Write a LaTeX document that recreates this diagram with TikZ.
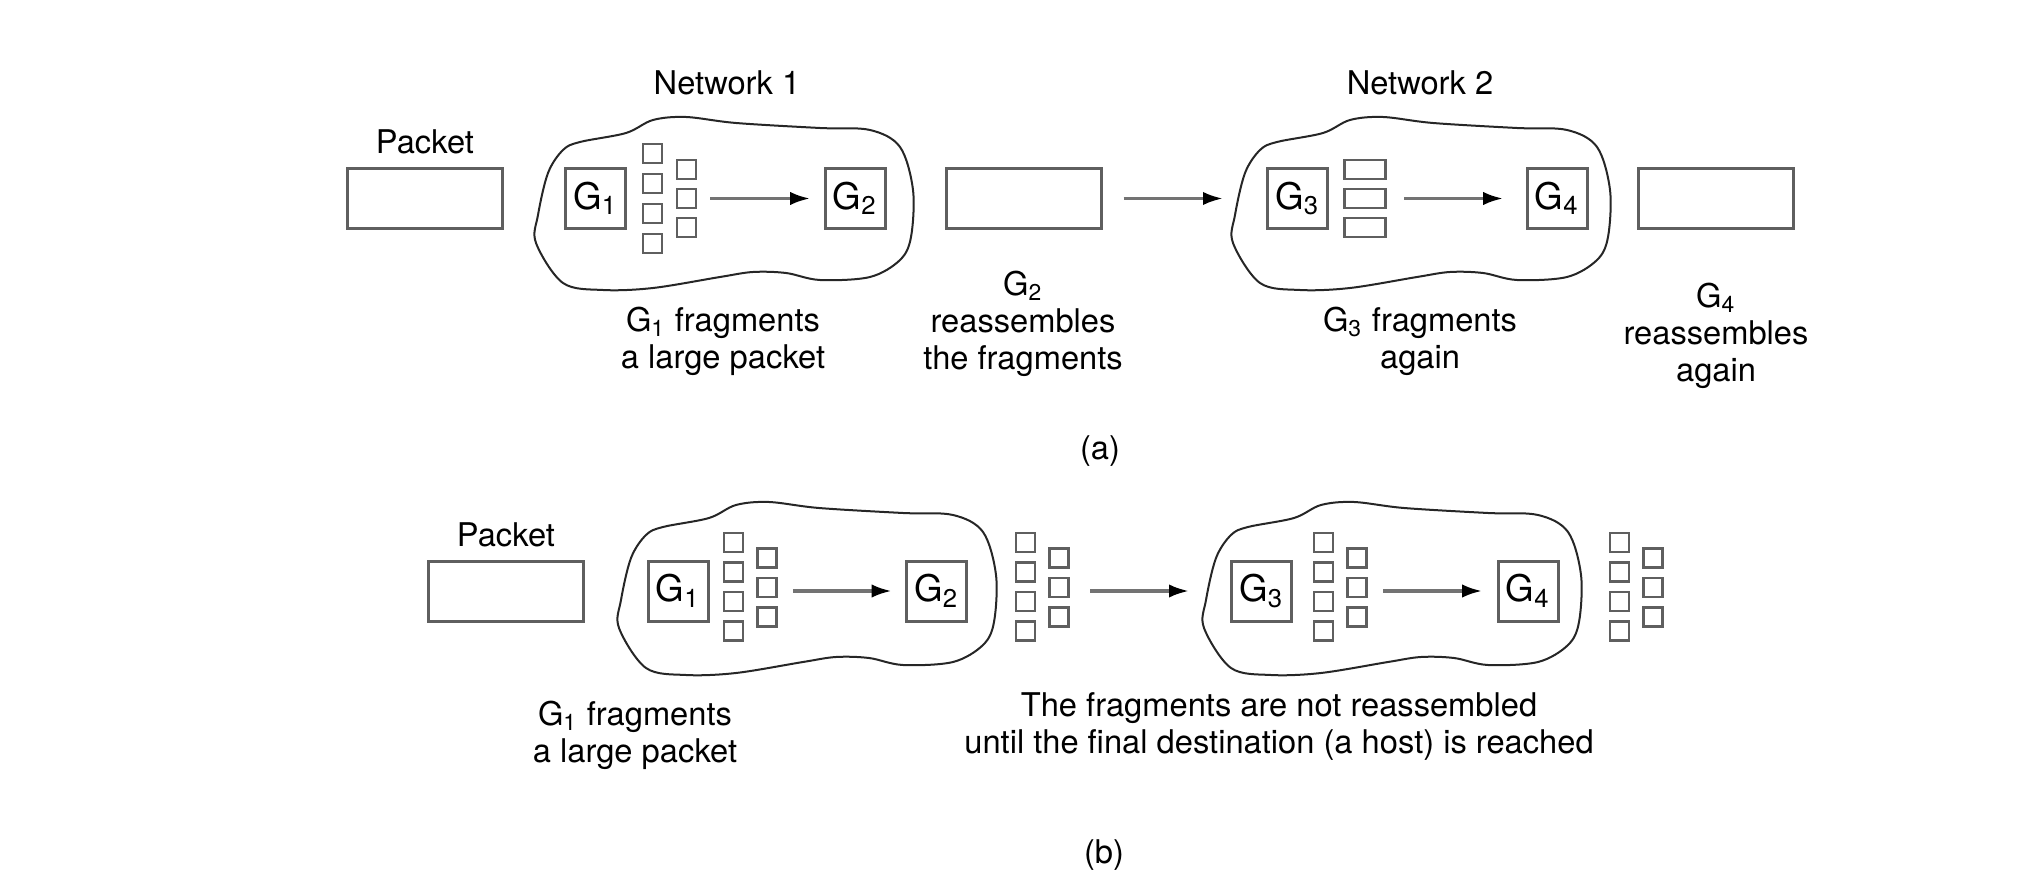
\documentclass[tikz,border=0pt]{standalone}
\usepackage{fontspec}
\setmainfont{TeX Gyre Heros}
\usepackage{tikz}
\usetikzlibrary{arrows.meta,positioning,calc}
\definecolor{boxgray}{RGB}{95,95,95}
\definecolor{shaftgray}{RGB}{115,115,115}

\begin{document}
\begin{tikzpicture}[x=0.3pt, y=-0.3pt, font=\fontsize{9.8}{11.1}\selectfont]
    \tikzstyle{pkt}=[draw=boxgray, line width=0.9pt, inner sep=0pt, minimum width=46.5pt, minimum height=18pt]
    \tikzstyle{gate}=[draw=boxgray, line width=0.9pt, inner sep=0pt, minimum size=18pt, font=\fontsize{11}{13}\selectfont]
    \tikzstyle{frag}=[draw=boxgray, line width=0.8pt, inner sep=0pt, minimum size=5.7pt]
    \tikzstyle{wide frag}=[frag, minimum width=12.3pt]
    \tikzstyle{lbl}=[inner sep=0pt, align=center]
    \tikzstyle{net}=[draw=black!85, line width=0.6pt]
    \tikzstyle{arr}=[-{Latex[length=6pt,width=4pt,color=black]}, draw=shaftgray, line width=1pt]

    \useasboundingbox (0,0) rectangle (2037,883);

    % the two networks, drawn as clouds
    \foreach \c in {(725,203),(1422,203),(808,588),(1393,588)}
        \draw[net,shift={\c}] plot[smooth cycle,tension=0.55] coordinates {
            (-187,12) (-177,-30) (-162,-53) (-145,-61) (-99,-70) (-72,-83)
            (-39,-86) (11,-80) (95,-75) (145,-73) (175,-56) (188,-13)
            (186,34) (175,57) (145,74) (95,77) (61,70) (28,69) (-5,74)
            (-72,85) (-122,87) (-162,80) (-189,40)};

    % (a) transparent fragmentation
    \node[pkt]  (P)  at (425,198.5)    {};
    \node[lbl,above=3.6pt of P] (PL) {Packet};
    \node[gate] (G1) at (595.5,198.5)  {G\textsubscript{1}};
    \node[gate] (G2) at (855,198.5)    {G\textsubscript{2}};
    \node[pkt]  (R)  at (1023.5,198.5) {};
    \node[gate] (G3) at (1297.5,198.5) {G\textsubscript{3}};
    \node[gate] (G4) at (1557,198.5)   {G\textsubscript{4}};
    \node[pkt]  (S)  at (1716,198.5)   {};

    \foreach \y [count=\i] in {-45,-15,15,45}
        \node[frag] (FA\i) at ($(G1)+(57,\y)$) {};
    \foreach \y [count=\i] in {-29,0,29}
        \node[frag] (FB\i) at ($(G1)+(91,\y)$) {};
    \foreach \y [count=\i] in {-29,0,29}
        \node[wide frag] (FC\i) at ($(G3)+(67.5,\y)$) {};

    \draw[arr, shorten <=24.9pt, shorten >=4pt]   (G1) -- (G2);
    \draw[arr, shorten <=6.3pt,  shorten >=12.9pt] (R)  -- (G3);
    \draw[arr, shorten <=22.5pt, shorten >=6.7pt]  (G3) -- (G4);

    \node[lbl,anchor=base]  (N1) at (727,95)   {Network 1};
    \node[lbl,anchor=base]  (N2) at (1420,95)  {Network 2};
    \node[lbl,anchor=north] (T1) at (723,306)  {G\textsubscript{1} fragments\\a large packet};
    \node[lbl,anchor=north] (T2) at (1023,270) {G\textsubscript{2}\\reassembles\\the fragments};
    \node[lbl,anchor=north] (T3) at (1420,306) {G\textsubscript{3} fragments\\again};
    \node[lbl,anchor=north] (T4) at (1716,282) {G\textsubscript{4}\\reassembles\\again};
    \node[lbl] (CA) at (1100,451) {(a)};

    % (b) non-transparent fragmentation
    \node[pkt]  (Q)  at (506,591)    {};
    \node[lbl,above=3.6pt of Q] (QL) {Packet};
    \node[gate] (H1) at (678,591)    {G\textsubscript{1}};
    \node[gate] (H2) at (936.5,591)  {G\textsubscript{2}};
    \node[gate] (H3) at (1261.5,591) {G\textsubscript{3}};
    \node[gate] (H4) at (1528,591)   {G\textsubscript{4}};

    \foreach \g/\dx/\n in {H1/55.5/A, H2/89/B, H3/62/C, H4/91.5/D} {
        \foreach \y [count=\i] in {-48.5,-19,10.5,40}
            \node[frag] (K\n\i) at ($(\g)+(\dx,\y)$) {};
        \foreach \y [count=\i] in {-33,-3.5,26}
            \node[frag] (L\n\i) at ($(\g)+(\dx+33.5,\y)$) {};
    }

    \draw[arr, shorten <=25pt,   shorten >=4pt]    (H1) -- (H2);
    \draw[arr, shorten <=36.6pt, shorten >=12.3pt] (H2) -- (H3);
    \draw[arr, shorten <=27pt,   shorten >=4.3pt]  (H3) -- (H4);

    \node[lbl,anchor=north] (U1) at (635,700)  {G\textsubscript{1} fragments\\a large packet};
    \node[lbl,anchor=north] (U2) at (1279,692) {The fragments are not reassembled\\until the final destination (a host) is reached};
    \node[lbl] (CB) at (1104,855) {(b)};
\end{tikzpicture}
\end{document}
